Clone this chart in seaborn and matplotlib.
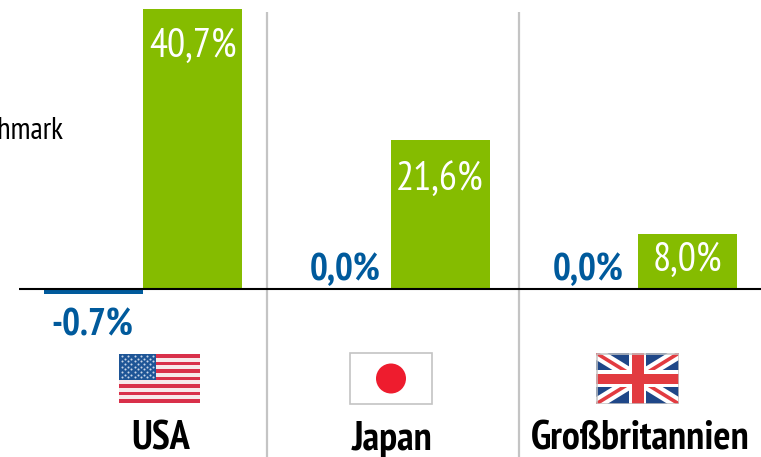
import numpy as np
import pandas as pd
import seaborn as sns
import matplotlib
matplotlib.use("Agg")
import matplotlib.pyplot as plt
from matplotlib.patches import Rectangle, Circle

countries = ["USA", "Japan", "Großbritannien"]
series_names = ["Benchmark", "Fonds"]
benchmark_values = [-0.7, 0.0, 0.0]
fund_values = [40.7, 21.6, 8.0]
benchmark_labels = ["-0.7%", "0,0%", "0,0%"]
fund_labels = ["40,7%", "21,6%", "8,0%"]
BLUE = "#005A9C"
GREEN = "#85BC00"
GRAY = "#C4C4C4"

W, H = 761, 457
sns.set_style("white")
plt.rcParams["font.family"] = ["PT Sans Narrow", "Liberation Sans", "DejaVu Sans"]

df = pd.DataFrame({
    "country": countries * 2,
    "series": [series_names[0]] * 3 + [series_names[1]] * 3,
    "value": benchmark_values + fund_values,
})

fig = plt.figure(figsize=(W / 100, H / 100), dpi=100, facecolor="white")
ax = fig.add_axes([0, 0, 1, 1])
sns.barplot(data=df, x="country", y="value", hue="series", hue_order=series_names,
            palette=[BLUE, GREEN], saturation=1, width=0.8, legend=False, ax=ax,
            errorbar=None, linewidth=0)

PX_X = 247.5
PX_Y = 6.88
ax.set_xlim(-143 / PX_X, (W - 143) / PX_X)
ax.set_ylim(-(H - 289) / PX_Y, 289 / PX_Y)
ax.axis("off")

ax.vlines([0.5, 1.52], ax.get_ylim()[0], (289 - 12) / PX_Y, color=GRAY, lw=1.6, zorder=1)
ax.plot([(19 - 143) / PX_X, (W - 143) / PX_X], [0, 0], color="black", lw=1.5, zorder=5,
        solid_capstyle="butt")


def px(x, y):
    return x / W, 1 - y / H


off = 100 / 72
for bar, val, lab, (dx, dy) in zip(ax.containers[0], benchmark_values, benchmark_labels,
                                   [(-1, -32), (4, 18), (0, 18)]):
    ax.annotate(lab, (bar.get_x() + bar.get_width() / 2, val), xytext=(dx / off, dy / off),
                textcoords="offset points", ha="center", va="center",
                color=BLUE, fontsize=27, fontweight="bold", zorder=6)
for bar, val, lab, dy in zip(ax.containers[1], fund_values, fund_labels, [-37, -39, -26]):
    ax.annotate(lab, (bar.get_x() + bar.get_width() / 2, val), xytext=(0, dy / off),
                textcoords="offset points", ha="center", va="center",
                color="white", fontsize=29, zorder=6)

for name, x in zip(countries, [161, 392, 640]):
    fig.text(*px(x, 450), name, ha="center", va="baseline", fontsize=29, fontweight="bold",
             color="black")
fig.text(*px(63, 131), series_names[0], ha="right", va="center", fontsize=22, color="black")


# USA flag
a = fig.add_axes([119 / W, 1 - 403 / H, 81 / W, 49 / H])
a.set_xlim(0, 1)
a.set_ylim(1, 0)
a.axis("off")
a.add_patch(Rectangle((0, 0), 1, 1, color="#F7E9EA", lw=0))
for i in range(0, 13, 2):
    a.add_patch(Rectangle((0, i / 13), 1, 1 / 13, color="#D9304A", lw=0))
a.add_patch(Rectangle((0, 0), 0.46, 7 / 13, color="#1E5596", lw=0, zorder=3))
for r in range(9):
    n = 6 if r % 2 == 0 else 5
    xs = (np.arange(n) + (0.5 if r % 2 == 0 else 1.0)) * 0.46 / 6
    a.scatter(xs, [(r + 0.8) * (7 / 13) / 10] * n, s=2.2, color="#C9D6E8", lw=0, zorder=4)

# Japan flag
a = fig.add_axes([349 / W, 1 - 405 / H, 84 / W, 53 / H])
a.set_xlim(0, 84)
a.set_ylim(53, 0)
a.axis("off")
a.add_patch(Rectangle((0.7, 0.7), 82.6, 51.6, facecolor="white", edgecolor=GRAY, lw=1.2))
a.add_patch(Circle((42, 26.5), 15, color="#EE1C2E", lw=0))

# UK flag
a = fig.add_axes([596 / W, 1 - 404 / H, 83 / W, 51 / H])
a.set_xlim(0, 83)
a.set_ylim(51, 0)
a.axis("off")
a.add_patch(Rectangle((0, 0), 83, 51, color="#1F4788", lw=0))
for (p, q) in [((0, 0), (83, 51)), ((0, 51), (83, 0))]:
    a.plot(*zip(p, q), color="white", lw=8.5, solid_capstyle="butt", zorder=2)
    a.plot(*zip(p, q), color="#E23B40", lw=2.6, solid_capstyle="butt", zorder=3)
a.add_patch(Rectangle((33, 0), 17, 51, color="white", lw=0, zorder=4))
a.add_patch(Rectangle((0, 17), 83, 17, color="white", lw=0, zorder=4))
a.add_patch(Rectangle((35.5, 0), 12, 51, color="#E23B40", lw=0, zorder=5))
a.add_patch(Rectangle((0, 20.5), 83, 10, color="#E23B40", lw=0, zorder=5))
a.add_patch(Rectangle((0.5, 0.5), 82, 50, facecolor="none", edgecolor=GRAY, lw=1.1, zorder=6))

fig.savefig("out.png", dpi=100, facecolor="white")
